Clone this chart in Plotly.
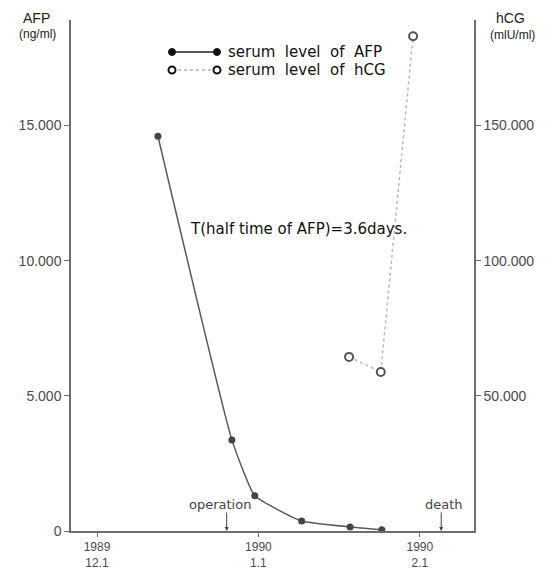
import plotly.graph_objects as go

# days after 1989-12-01
afp_days = [11.7, 25.9, 30.3, 39.3, 48.6, 54.7]
afp_values = [14600, 3370, 1300, 370, 150, 50]

hcg_days = [48.4, 54.5, 60.7]
hcg_values = [64400, 58800, 183000]

x_tick_vals = [0, 31, 62]
x_tick_text = ["1989<br>12.1", "1990<br>1.1", "1990<br>2.1"]
left_tick_vals = [0, 5000, 10000, 15000]
left_tick_text = ["0", "5.000", "10.000", "15.000"]
right_tick_vals = [50000, 100000, 150000]
right_tick_text = ["50.000", "100.000", "150.000"]

event_days = [24.9, 66.1]
event_labels = ["operation", "death"]

AX = "#6e6e6e"
TXT = "#4a4a4a"
FONT = "Liberation Sans Narrow, Liberation Sans, Arial"
WFONT = "DejaVu Sans, Liberation Sans"

OFF = 8  # page body margin
W, H = 552 - OFF, 572 - OFF
L, R, T, B = 71 - OFF, 78, 20 - OFF, 41
# page-pixel -> paper helpers (page coords as in the reference picture)
def px(x): return (x - 71) / 403
def py(y): return (531 - y) / 511

fig = go.Figure()
fig.add_trace(go.Scatter(
    x=afp_days, y=afp_values, mode="lines+markers",
    line=dict(color="#5a5a5a", width=1.5, shape="spline", smoothing=0.4),
    marker=dict(color="#444444", size=7),
    showlegend=False, cliponaxis=False))
fig.add_trace(go.Scatter(
    x=hcg_days, y=hcg_values, mode="lines+markers", yaxis="y2",
    line=dict(color="#b8b8b8", width=1.5, dash="dot"),
    marker=dict(color="white", size=8, line=dict(color="#555555", width=2)),
    showlegend=False, cliponaxis=False))

annotations = []
for d, lab in zip(event_days, event_labels):
    annotations.append(dict(x=d, y=0, xref="x", yref="y", ax=0, ay=-20,
                            showarrow=True, arrowhead=2, arrowsize=0.8, arrowwidth=1,
                            arrowcolor="#444", text=""))
    annotations.append(dict(x=d - (1.3 if lab == "operation" else -0.6), y=0, xref="x", yref="y",
                            yshift=27, showarrow=False, text=lab, xanchor="center",
                            font=dict(family=WFONT, size=13, color="#444")))

def note(x, y, text, size, color="#111", family=WFONT, anchor="center"):
    return dict(x=px(x), y=py(y), xref="paper", yref="paper", showarrow=False,
                xanchor=anchor, yanchor="middle", text=text,
                font=dict(family=family, size=size, color=color))

annotations += [
    note(298, 229, "T(half time of AFP)=3.6days.", 15),
    note(226, 52, "serum  level  of  AFP", 15, anchor="left"),
    note(226, 70, "serum  level  of  hCG", 15, anchor="left"),
    note(36, 18, "AFP", 14, "#222", "Liberation Sans, Arial"),
    note(37, 34, "(ng/ml)", 12, "#222", "Liberation Sans, Arial"),
    note(510, 18, "hCG", 14, "#222", "Liberation Sans, Arial"),
    note(512, 35, "(mlU/ml)", 12, "#222", "Liberation Sans, Arial"),
]

shapes = [
    dict(type="line", xref="paper", yref="paper", x0=px(172), x1=px(217), y0=py(52), y1=py(52),
         line=dict(color="#222", width=1.5)),
    dict(type="line", xref="paper", yref="paper", x0=px(172), x1=px(217), y0=py(70), y1=py(70),
         line=dict(color="#888", width=1, dash="dot")),
]
for xx in (172, 217):
    shapes.append(dict(type="circle", xref="paper", yref="paper", xsizemode="pixel", ysizemode="pixel",
                       xanchor=px(xx), yanchor=py(52), x0=-3.5, x1=3.5, y0=-3.5, y1=3.5,
                       fillcolor="#111", line=dict(color="#111", width=1)))
    shapes.append(dict(type="circle", xref="paper", yref="paper", xsizemode="pixel", ysizemode="pixel",
                       xanchor=px(xx), yanchor=py(70), x0=-3.5, x1=3.5, y0=-3.5, y1=3.5,
                       fillcolor="white", line=dict(color="#111", width=2)))

fig.update_layout(
    width=W, height=H, margin=dict(l=L, r=R, t=T, b=B, autoexpand=False),
    plot_bgcolor="white", paper_bgcolor="white", showlegend=False,
    font=dict(family=FONT, color=TXT, size=13),
    xaxis=dict(range=[-5, 72.4], tickvals=x_tick_vals, ticktext=x_tick_text, automargin=False,
               showgrid=False, zeroline=False, showline=True, linecolor=AX, linewidth=1.5,
               ticks="outside", ticklen=4, tickcolor=AX, tickfont=dict(size=12, color=TXT)),
    yaxis=dict(range=[0, 18900], tickvals=left_tick_vals, ticktext=left_tick_text, automargin=False,
               showgrid=False, zeroline=False, showline=True, linecolor=AX, linewidth=1.5,
               ticks="outside", ticklen=5, tickcolor=AX, tickfont=dict(size=14, color=TXT)),
    yaxis2=dict(range=[0, 189000], overlaying="y", side="right", tickvals=right_tick_vals,
                ticktext=right_tick_text, showgrid=False, zeroline=False, showline=True,
                automargin=False,
                linecolor=AX, linewidth=1.5, ticks="outside", ticklen=5, tickcolor=AX,
                tickfont=dict(size=14, color=TXT)),
    annotations=annotations, shapes=shapes,
)

fig.write_html("out.html")
